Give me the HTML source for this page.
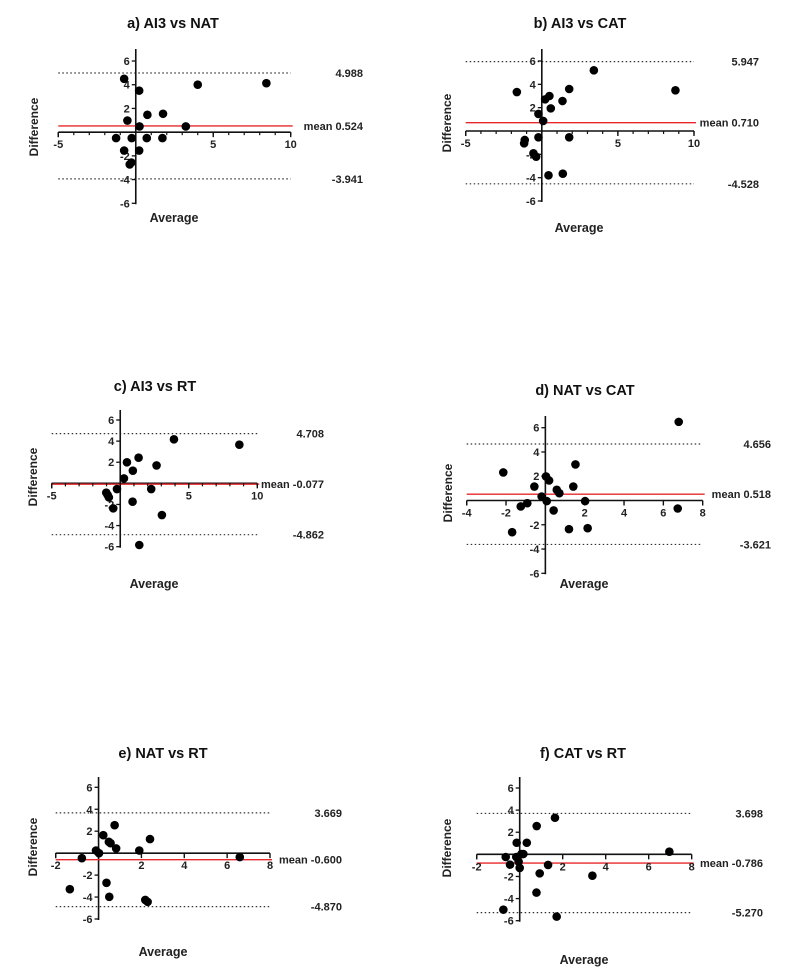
<!DOCTYPE html>
<html><head><meta charset="utf-8"><style>
html,body{margin:0;padding:0;background:#fff;}
svg{display:block;font-family:"Liberation Sans",Arial,sans-serif;}
</style></head><body>
<svg id="fig" width="800" height="975" viewBox="0 0 800 975"></svg>
<script>
// ---- data ----
const titles = ["a) AI3 vs NAT","b) AI3 vs CAT","c) AI3 vs RT","d) NAT vs CAT","e)  NAT vs RT","f) CAT vs RT"];
const meanVals = [0.524,0.710,-0.077,0.518,-0.600,-0.786];
const upperLoA = [4.988,5.947,4.708,4.656,3.669,3.698];
const lowerLoA = [-3.941,-4.528,-4.862,-3.621,-4.870,-5.270];
const meanLabels = ["mean 0.524","mean 0.710","mean -0.077","mean 0.518","mean -0.600","mean -0.786"];
const upperLabels = ["4.988","5.947","4.708","4.656","3.669","3.698"];
const lowerLabels = ["-3.941","-4.528","-4.862","-3.621","-4.870","-5.270"];
const xTicksA = [-5,5,10];
const xTicksD = [-4,-2,2,4,6,8];
const xTicksE = [-2,2,4,6,8];
const yTickLabels = [-6,-4,-2,2,4,6];
const avgA = [-0.75,-0.54,0.22,0.75,1.76,0.24,3.23,4.0,8.43,-1.27,-0.26,0.71,1.72,-0.75,0.22,-0.28,-0.39];
const diffA = [4.5,0.98,3.5,1.46,1.55,0.48,0.48,4.0,4.13,-0.5,-0.5,-0.5,-0.5,-1.55,-1.55,-2.56,-2.72];
const avgB = [-1.64,-1.12,-1.16,-0.22,0.09,0.22,0.5,0.59,1.36,1.8,3.42,8.78,-0.22,1.8,-0.55,-0.37,0.44,1.38];
const diffB = [3.34,-0.77,-1.06,1.46,0.86,2.71,3.0,1.94,2.57,3.6,5.2,3.49,-0.54,-0.54,-1.91,-2.2,-3.8,-3.66];
const avgC = [0.27,0.49,0.92,1.34,2.65,3.92,8.69,-0.24,-1.02,-0.92,-0.83,-0.51,0.9,2.26,3.04,1.39];
const diffC = [0.47,1.99,1.2,2.43,1.7,4.17,3.66,-0.54,-0.88,-1.1,-1.33,-2.37,-1.74,-0.54,-3.0,-5.84];
const avgD = [-2.14,-1.69,-1.25,-0.92,-0.56,-0.19,0.03,0.19,0.07,0.42,0.58,0.71,1.42,1.53,1.2,2.02,2.15,6.78,6.73];
const diffD = [2.31,-2.61,-0.49,-0.22,1.15,0.33,1.98,1.65,-0.05,-0.82,0.88,0.6,1.15,2.97,-2.36,-0.05,-2.28,6.48,-0.66];
const avgE = [-1.34,-0.78,-0.12,0.02,0.22,0.48,0.56,0.75,0.82,1.9,2.4,0.37,0.5,2.18,2.29,6.59];
const diffE = [-3.28,-0.46,0.24,0,1.64,1.03,0.91,2.55,0.43,0.24,1.28,-2.7,-3.98,-4.26,-4.44,-0.36];
const avgF = [-0.76,-0.65,-0.45,-0.14,-0.16,-0.05,0,0.08,0.17,0.33,0.79,0.78,0.93,1.32,1.64,1.72,3.38,6.96];
const diffF = [-5.0,-0.24,-0.93,1.05,-0.24,-0.66,-1.23,0.03,0.03,1.05,2.56,-3.46,-1.72,-0.96,3.31,-5.63,-1.93,0.24];
const avgs = [avgA,avgB,avgC,avgD,avgE,avgF];
const diffs = [diffA,diffB,diffC,diffD,diffE,diffF];
const xTickSets = [xTicksA,xTicksA,xTicksA,xTicksD,xTicksE,xTicksE];

// ---- layout (pixels) ----
const layout = [
 {xmin:-5,xmax:10,px0:58.3,px1:290.7,y6:61,ym6:203.3,top:49,lblX:363,tX:173,tY:28,dX:34,dY:127,aX:174,aY:222,minor:1},
 {xmin:-5,xmax:10,px0:465.7,px1:694,y6:61,ym6:201,top:49,lblX:759,tX:580,tY:28,dX:447,dY:123,aX:579,aY:232,minor:1},
 {xmin:-5,xmax:10,px0:51.7,px1:257.3,y6:420,ym6:546.7,top:410,lblX:324,tX:155,tY:391,dX:33,dY:477,aX:154,aY:588,minor:1},
 {xmin:-4,xmax:8,px0:466.7,px1:702.7,y6:427.7,ym6:573.3,top:416,lblX:771,tX:585,tY:395,dX:448,dY:493,aX:584,aY:588,minor:0},
 {xmin:-2,xmax:8,px0:55.7,px1:270,y6:787.3,ym6:919,top:777,lblX:342,tX:163,tY:758,dX:33,dY:847,aX:163,aY:956,minor:0},
 {xmin:-2,xmax:8,px0:476.7,px1:691.7,y6:788,ym6:920.7,top:777,lblX:763,tX:583,tY:758,dX:447,dY:848,aX:584,aY:964,minor:0}
];
const NS="http://www.w3.org/2000/svg";
const svg=document.getElementById('fig');
function mk(tag,attrs,parent,text){const e=document.createElementNS(NS,tag);for(const k in attrs)e.setAttribute(k,attrs[k]);if(text!==undefined)e.textContent=text;parent.appendChild(e);return e;}

for(let p=0;p<6;p++){
 const L=layout[p];
 const sx=v=>L.px0+(v-L.xmin)/(L.xmax-L.xmin)*(L.px1-L.px0);
 const sy=v=>L.y6+(6-v)/12*(L.ym6-L.y6);
 const g=mk('g',{},svg);
 
 
 const x0=sx(0), y0=sy(0);
 const t=mk('text',{x:L.tX,y:L.tY,'text-anchor':'middle','font-size':14.5,'font-weight':'bold',fill:'#111'},g,titles[p]);
 
 
 // LoA lines
 [[upperLoA[p],upperLabels[p],'upper-loa'],[lowerLoA[p],lowerLabels[p],'lower-loa']].forEach(([v,lab,nm])=>{
  const l=mk('line',{x1:L.px0,x2:L.px1,y1:sy(v),y2:sy(v),stroke:'#333','stroke-width':1.2,'stroke-dasharray':'1.5,2.5'},g);
  
  
  const tx=mk('text',{x:L.lblX,y:sy(v)+4,'text-anchor':'end','font-size':11,'font-weight':'bold',fill:'#222'},g,lab);
  
  
 });
 // axes
 const xa=mk('line',{x1:L.px0,x2:L.px1,y1:y0,y2:y0,stroke:'#111','stroke-width':1.6},g);
 
 
 const ya=mk('line',{x1:x0,x2:x0,y1:L.top,y2:L.ym6+1,stroke:'#111','stroke-width':1.6},g);
 
 
 // mean line
 const ml=mk('line',{x1:L.px0,x2:L.px1+2,y1:sy(meanVals[p]),y2:sy(meanVals[p]),stroke:'#e8282a','stroke-width':1.4},g);
 
 
 const mt=mk('text',{x:L.lblX,y:sy(meanVals[p])+4,'text-anchor':'end','font-size':11,'font-weight':'bold',fill:'#222'},g,meanLabels[p]);
 
 
 // x ticks
 if(L.minor){for(let v=L.xmin;v<=L.xmax;v++){mk('line',{x1:sx(v),x2:sx(v),y1:y0,y2:y0+3,stroke:'#111','stroke-width':1.2},g);}}
 const xt=xTickSets[p];
 [0].concat(xt).forEach(v=>{mk('line',{x1:sx(v),x2:sx(v),y1:y0,y2:y0+5,stroke:'#111','stroke-width':1.4},g);});
 mk('line',{x1:sx(L.xmin),x2:sx(L.xmin),y1:y0,y2:y0+5,stroke:'#111','stroke-width':1.4},g);
 xt.forEach(v=>{const e=mk('text',{x:sx(v),y:y0+16,'text-anchor':'middle','font-size':11,'font-weight':'bold',fill:'#222'},g,String(v));
  
  });
 // y ticks
 yTickLabels.forEach(v=>{mk('line',{x1:x0-4,x2:x0,y1:sy(v),y2:sy(v),stroke:'#111','stroke-width':1.3},g);
  const e=mk('text',{x:x0-6,y:sy(v)+4,'text-anchor':'end','font-size':11,'font-weight':'bold',fill:'#222'},g,String(v));
  
  });
 // axis titles
 const dt=mk('text',{x:L.dX,y:L.dY,'text-anchor':'middle','font-size':12,'font-weight':'bold',fill:'#222',transform:`rotate(-90 ${L.dX} ${L.dY})`,dy:4},g,'Difference');
 
 
 const at=mk('text',{x:L.aX,y:L.aY,'text-anchor':'middle','font-size':12.5,'font-weight':'bold',fill:'#222'},g,'Average');
 
 
 // points
 avgs[p].forEach((a,i)=>{const c=mk('circle',{cx:sx(a),cy:sy(diffs[p][i]),r:4.3,fill:'#000'},g);
  
  });
}
</script>
</body></html>
